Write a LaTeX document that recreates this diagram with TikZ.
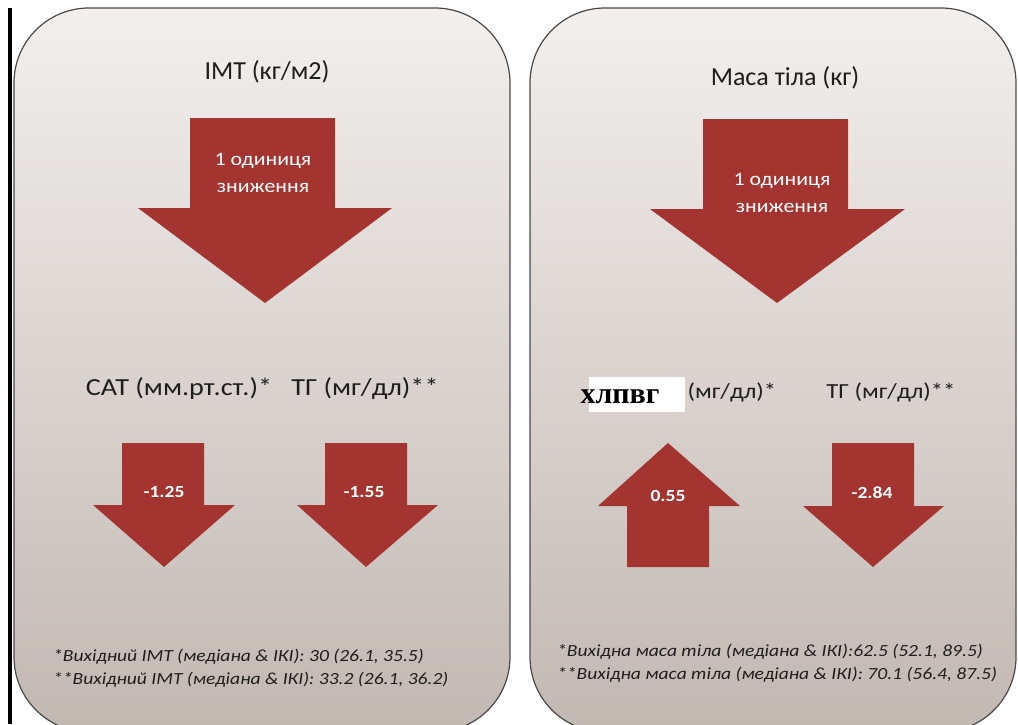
\documentclass[tikz,border=0pt]{standalone}
\usepackage{fontspec}
\setmainfont{Carlito}
\newfontfamily\wfont[FakeStretch=1.15]{Carlito}
\newfontfamily\serifb{Liberation Serif}
\definecolor{arrowred}{HTML}{A4342F}
\definecolor{bgtop}{HTML}{F2EFED}
\definecolor{bgbot}{HTML}{C2B8B2}
\definecolor{rim}{HTML}{4A4A4A}
\definecolor{ink}{HTML}{1E1E1E}
\tikzset{
  panel/.style={top color=bgtop, bottom color=bgbot, draw=rim, line width=1.2pt, rounded corners=75pt},
  arr/.style={fill=arrowred, draw=none},
  ttl/.style={inner sep=0pt, text=ink, font=\fontsize{26}{30}\selectfont},
  intext/.style={inner sep=0pt, text=white, align=center, font=\wfont\fontsize{19}{27}\selectfont},
  num/.style={inner sep=0pt, text=white, font=\wfont\bfseries\fontsize{17}{20}\selectfont},
  midl/.style={inner sep=0pt, text=ink, font=\wfont\fontsize{24.5}{28}\selectfont},
  midr/.style={inner sep=0pt, text=ink, font=\wfont\fontsize{21.5}{26}\selectfont},
  foot/.style={inner sep=0pt, anchor=west, text=ink, font=\wfont\itshape\fontsize{17}{20}\selectfont},
}
\begin{document}
\begin{tikzpicture}[x=1pt,y=-1pt]
\useasboundingbox (0,0) rectangle (1018,724);
\clip (0,0) rectangle (1018,724);
\fill[white] (0,0) rectangle (1018,724);
% panels
\path[panel] (14,8) rectangle (510,732);
\path[panel] (530,8) rectangle (1016,732);
% left black rule
\draw[line width=3.5pt] (10,8) -- (10,724);
% titles
\node[ttl] (t1) at (267,72) {ІМТ (кг/м2)};
\node[ttl] (t2) at (785,78) {Маса тіла (кг)};
% big arrows
\fill[arr] (190,118) -- (335,118) -- (335,208) -- (392,208) -- (265,303) -- (138,208) -- (190,208) -- cycle;
\fill[arr] (703,119) -- (848,119) -- (848,209) -- (905,209) -- (777,303) -- (650,209) -- (703,209) -- cycle;
\node[intext] (a1) at (263,173) {1 одиниця\\зниження};
\node[intext] (a2) at (782,193) {1 одиниця\\зниження};
% middle labels
\node[midl] (m1) at (179,389) {САТ (мм.рт.ст.)*};
\node[midl] (m2) at (365,389) {ТГ (мг/дл)**};
\node[fill=white, minimum width=96pt, minimum height=35pt, inner sep=0pt] (wb) at (637,394.5) {};
\node[inner sep=0pt, font=\serifb\bfseries\fontsize{30}{34}\selectfont] (m3) at (620,397) {хлпвг};
\node[midr] (m4) at (732,392) {(мг/дл)*};
\node[midr] (m5) at (891,392) {ТГ (мг/дл)**};
% small arrows
\fill[arr] (122,443) -- (204,443) -- (204,505) -- (235,505) -- (164,567) -- (93,505) -- (122,505) -- cycle;
\fill[arr] (325,443) -- (407,443) -- (407,505) -- (438,505) -- (366,567) -- (297,505) -- (325,505) -- cycle;
\fill[arr] (668,443) -- (740,506) -- (709,506) -- (709,567) -- (627,567) -- (627,506) -- (598,506) -- cycle;
\fill[arr] (832,443) -- (914,443) -- (914,506) -- (944,506) -- (873,567) -- (803,506) -- (832,506) -- cycle;
\node[num] (n1) at (164,492) {-1.25};
\node[num] (n2) at (364,492) {-1.55};
\node[num] (n3) at (668,496) {0.55};
\node[num] (n4) at (872,493) {-2.84};
% footnotes
\node[foot] (f1) at (53,657) {*Вихідний ІМТ (медіана \& ІКІ): 30 (26.1, 35.5)};
\node[foot] (f2) at (53,680) {**Вихідний ІМТ (медіана \& ІКІ): 33.2 (26.1, 36.2)};
\node[foot] (f3) at (557,652) {*Вихідна маса тіла (медіана \& ІКІ):62.5 (52.1, 89.5)};
\node[foot] (f4) at (557,675) {**Вихідна маса тіла (медіана \& ІКІ): 70.1 (56.4, 87.5)};
\end{tikzpicture}
\end{document}
